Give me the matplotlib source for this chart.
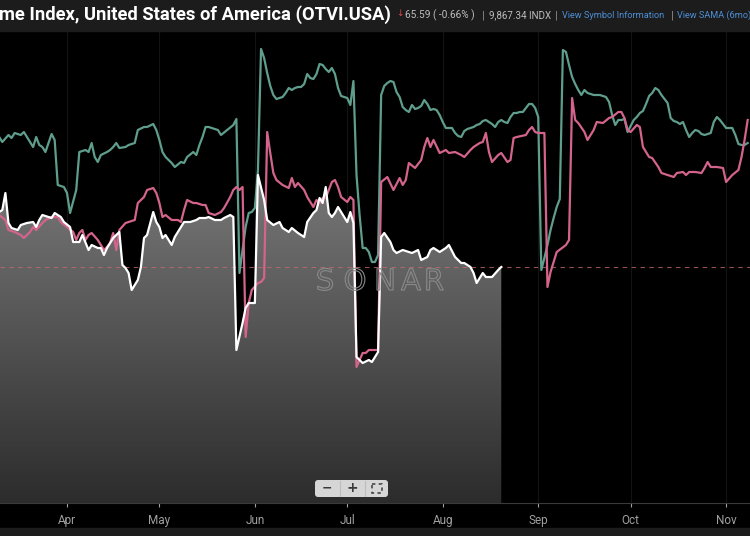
import numpy as np
import pandas as pd
import matplotlib
matplotlib.use("Agg")
import matplotlib.pyplot as plt
import matplotlib.dates as mdates
import matplotlib.patheffects as pe
from matplotlib.colors import LinearSegmentedColormap
from matplotlib.patches import Polygon, Rectangle, FancyBboxPatch

# days after 2024-03-10, index values
base = pd.Timestamp("2024-03-10")

teal_day = [0, 1, 3, 4, 5, 7, 8, 9, 11, 12, 13, 14, 15, 17, 18, 19, 21, 22, 23, 25, 26, 28, 29, 30,
            31, 32, 33, 35, 36, 37, 38, 39, 41, 42, 44, 45, 47, 48, 50, 51, 52, 53, 54, 56, 57, 59,
            60, 61, 63, 64, 65, 66, 67, 68, 69, 71, 72, 74, 76, 77, 78, 80, 81, 82, 83, 84, 85] + list(range(86, 244))
teal_val = [11167, 11117, 11187, 11157, 11207, 11187, 11217, 11167, 11067, 11167, 11087, 11067, 11017,
            11197, 11137, 10687, 10667, 10607, 10407, 10637, 11017, 11037, 11017, 11107, 10967, 10917,
            10987, 11017, 11037, 11067, 11107, 11057, 11067, 11087, 11107, 11237, 11267, 11267, 11297,
            11237, 11137, 11017, 10967, 10907, 10867, 10917, 10907, 10967, 11017, 10987, 11087, 11167,
            11267, 11267, 11257, 11237, 11187, 11237, 11287, 11347, 9807, 10267, 10407, 10417, 10457,
            10837, 12047,
            11957, 11807, 11677, 11587, 11547, 11557, 11567, 11607, 11657, 11637, 11657, 11667, 11667,
            11697, 11797, 11757, 11747, 11797, 11897, 11887, 11847, 11817, 11857, 11797, 11657, 11577,
            11567, 11557, 11487, 11727, 10787, 10387, 10057, 10057, 10017, 9917, 9917, 9987, 11587,
            11677, 11707, 11727, 11717, 11617, 11567, 11467, 11437, 11417, 11487, 11447, 11457, 11477,
            11537, 11497, 11437, 11447, 11437, 11387, 11317, 11257, 11257, 11257, 11207, 11177, 11167,
            11227, 11247, 11257, 11267, 11287, 11297, 11327, 11337, 11317, 11297, 11267, 11317, 11337,
            11317, 11307, 11367, 11407, 11407, 11417, 11417, 11457, 11497, 11497, 11457, 11367, 9837,
            9957, 10087, 10237, 10357, 10467, 10547, 12037, 12017, 11887, 11767, 11697, 11637, 11587,
            11637, 11607, 11597, 11587, 11587, 11587, 11577, 11567, 11517, 11387, 11287, 11337, 11337,
            11347, 11217, 11277, 11337, 11367, 11407, 11427, 11497, 11577, 11607, 11657, 11637, 11587,
            11547, 11507, 11357, 11327, 11317, 11297, 11317, 11237, 11167, 11207, 11237, 11227, 11197,
            11187, 11197, 11207, 11317, 11367, 11337, 11297, 11257, 11257, 11257, 11187, 11097, 11087,
            11087, 11107]

pink_day = [0, 2, 3, 5, 7, 8, 10, 11, 12, 14, 15, 17, 19, 20, 22, 24, 25, 26, 27, 28, 29, 30, 32, 34,
            35, 36, 37, 38, 39, 41, 42, 44, 45, 47, 48, 50, 51, 52, 53, 54, 56, 58, 59, 60, 61, 63, 64,
            66, 67, 68, 70, 72, 73, 75, 76, 77, 78, 79, 80, 81, 82, 84, 85, 86, 87, 88, 89, 90, 92, 94,
            95, 96, 97, 99, 100, 102, 103, 104, 105, 106, 108, 109, 110, 111, 113, 114, 115, 116, 117,
            118, 119, 120, 122, 123, 124, 126, 128, 130, 131, 132, 133, 135, 137, 138, 139, 140, 141,
            143, 145, 146, 148, 150, 151, 153, 154, 156, 157, 158, 159, 160, 162, 163, 165, 166, 167,
            168, 171, 172, 173, 174, 175, 177, 178, 179, 181, 184, 185, 186, 187, 188, 190, 191, 193,
            194, 196, 198, 199, 201, 202, 203, 204, 205, 207, 208, 209, 211, 212, 214, 215, 217, 219,
            220, 222, 223, 224, 226, 228, 229, 230, 231, 233, 235, 236, 238, 240, 241, 242, 243]
pink_val = [10387, 10337, 10237, 10217, 10187, 10157, 10217, 10267, 10237, 10307, 10337, 10367, 10367,
            10317, 10267, 10217, 10137, 10207, 10237, 10137, 10187, 10207, 10137, 10037, 10067, 10107,
            10207, 10037, 10237, 10307, 10317, 10337, 10507, 10567, 10637, 10657, 10607, 10507, 10367,
            10387, 10337, 10337, 10317, 10437, 10537, 10507, 10507, 10487, 10487, 10407, 10387, 10417,
            10457, 10567, 10637, 10667, 10637, 10667, 9167, 9507, 9637, 9707, 9717, 9757, 11217, 11007,
            10807, 10737, 10687, 10657, 10757, 10667, 10707, 10637, 10567, 10467, 10537, 10507, 10557,
            10557, 10717, 10737, 10667, 10567, 10517, 10567, 10537, 8867, 8937, 9007, 9007, 9037, 9037,
            9037, 10717, 10767, 10637, 10757, 10687, 10737, 10907, 10857, 10937, 11067, 11157, 11067,
            11137, 11007, 11037, 11007, 11017, 10987, 10967, 11037, 11067, 11107, 11117, 11207, 11017,
            10917, 10987, 11007, 10917, 10937, 11157, 11167, 11187, 11237, 11267, 11217, 11207, 11207,
            9667, 9817, 10017, 10087, 10137, 11557, 11337, 11307, 11217, 11137, 11237, 11317, 11307,
            11357, 11367, 11417, 11417, 11357, 11237, 11217, 11287, 11267, 11067, 10967, 10957, 10867,
            10807, 10787, 10767, 10807, 10817, 10787, 10817, 10817, 10807, 10857, 10917, 10867, 10867,
            10857, 10717, 10787, 10837, 10967, 11137, 11337]

white_day = [0, 1, 2, 3, 4, 6, 7, 9, 11, 12, 13, 14, 16, 17, 18, 20, 21, 23, 24, 26, 27, 29, 30, 32,
             33, 34, 35, 37, 38, 39, 40, 41, 42, 43, 45, 46, 47, 48, 50, 51, 52, 53, 54, 56, 57, 59, 60,
             62, 64, 65, 67, 68, 70, 72, 73, 75, 76, 77, 79, 80, 81, 83, 84, 86, 87, 89, 91, 92, 94, 95,
             97, 99, 100, 102, 103, 104, 105, 106, 107, 108, 109, 110, 112, 113, 114, 115, 116, 118, 120,
             121, 123, 124, 125, 127, 128, 129, 131, 133, 134, 136, 137, 139, 140, 141, 143, 145, 146,
             148, 150, 151, 153, 154, 155, 157, 158, 160, 162, 163]
white_val = [10417, 10437, 10607, 10307, 10257, 10237, 10287, 10307, 10317, 10267, 10337, 10387, 10367,
             10357, 10407, 10367, 10317, 10267, 10117, 10117, 10187, 10037, 10087, 10057, 10057, 9987,
             10057, 10157, 10187, 10217, 9887, 9857, 9807, 9637, 9737, 9867, 10157, 10187, 10417, 10317,
             10267, 10157, 10187, 10087, 10167, 10267, 10317, 10317, 10337, 10357, 10357, 10367, 10337,
             10337, 10357, 10387, 10367, 9037, 9307, 9457, 9507, 9507, 10787, 10537, 10337, 10287,
             10317, 10257, 10217, 10257, 10207, 10167, 10317, 10407, 10437, 10557, 10507, 10667, 10407,
             10367, 10407, 10467, 10367, 10317, 10417, 10307, 8967, 8907, 8937, 8917, 9017, 10167,
             10207, 10117, 10037, 10007, 10037, 10017, 10007, 10037, 9937, 9967, 10037, 10057, 10017,
             10057, 10087, 9967, 9907, 9907, 9867, 9807, 9707, 9807, 9767, 9767, 9837, 9867.34]

last_value = 9867.34
title = "me Index, United States of America (OTVI.USA)"

W, H = 750, 536
fig = plt.figure(figsize=(W / 100, H / 100), dpi=100, facecolor="black")
ax = fig.add_axes([0, (H - 503) / H, 1, (503 - 32) / H])
ax.set_facecolor("black")

def to_x(days):
    return mdates.date2num(base + pd.to_timedelta(days, unit="D"))

tx, px_, wx = to_x(teal_day), to_x(pink_day), to_x(white_day)
x0 = to_x(0.25)
x1 = x0 + 750 / 3.08
ymin, ymax = 7507, 12217

# gradient area under the white line
verts = list(zip(wx, white_val)) + [(wx[-1], ymin), (wx[0] - 2, ymin), (wx[0] - 2, white_val[0])]
clip = Polygon(verts, closed=True, facecolor="none", edgecolor="none")
ax.add_patch(clip)
cmap = LinearSegmentedColormap.from_list("fill", ["#2c2c2c", "#787878"])
grad = np.linspace(0, 1, 256).reshape(-1, 1)
im = ax.imshow(grad, cmap=cmap, origin="lower", aspect="auto",
               extent=[wx[0] - 2, wx[-1], ymin, max(white_val)], zorder=1)
im.set_clip_path(clip)

ax.axhline(last_value, color="#c86a78", lw=0.8, ls=(0, (4, 4)), alpha=0.75, zorder=2)

ax.plot(tx, teal_val, color="#5f9d8c", lw=1.6, zorder=3)
ax.plot(px_, pink_val, color="#d4648c", lw=1.6, zorder=4)
ax.plot(wx, white_val, color="white", lw=1.6, zorder=5)

ax.set_xlim(x0, x1)
ax.set_ylim(ymin, ymax)
ax.xaxis.set_major_locator(mdates.MonthLocator(bymonth=range(4, 12)))
ax.xaxis.set_major_formatter(mdates.DateFormatter("%b"))
ax.set_yticks([])
ax.grid(axis="x", color="#131313", lw=0.8)
ax.set_axisbelow(True)
for s in ["top", "left", "right"]:
    ax.spines[s].set_visible(False)
ax.spines["bottom"].set_color("#3a3a3a")
ax.tick_params(axis="x", colors="#a0a0a0", length=3, width=0.8, pad=5, labelsize=8.5)
for lab in ax.get_xticklabels():
    lab.set_family("Roboto")

# header bar, bottom strip, watermark and zoom buttons
deco = fig.add_axes([0, 0, 1, 1], zorder=10)
deco.set_xlim(0, W)
deco.set_ylim(H, 0)
deco.axis("off")
deco.add_patch(Rectangle((0, 0), W, 31, color="#1c1c1c"))
deco.add_patch(Rectangle((0, 528), W, 8, color="#1c1c1c"))

for letter, lx in zip("SONAR", [325, 355, 385, 411, 434]):
    deco.text(lx, 282, letter, fontsize=21, family="DejaVu Sans", ha="center", va="center",
              color=(0, 0, 0, 0), path_effects=[pe.Stroke(linewidth=0.8, foreground="#8a8a8a")])

deco.text(-1, 15, title, fontsize=13.2, weight="bold", family="Roboto", color="white", va="center")
deco.text(396, 14, "\u2193", fontsize=6.5, color="#e0454b", va="center", family="DejaVu Sans")
deco.text(405, 15, "65.59 ( -0.66% )", fontsize=7.3, color="#bdbdbd", va="center", family="Roboto")
deco.text(482, 15, "|", fontsize=8, color="#9a9a9a", va="center", family="Roboto")
deco.text(489, 15, "9,867.34 INDX", fontsize=7, color="#bdbdbd", va="center", family="Roboto")
deco.text(555, 15, "|", fontsize=8, color="#9a9a9a", va="center", family="Roboto")
deco.text(562, 15, "View Symbol Information", fontsize=6.6, color="#4d8fd6", va="center", family="Roboto")
deco.text(671, 15, "|", fontsize=8, color="#9a9a9a", va="center", family="Roboto")
deco.text(677, 15, "View SAMA (6mo)", fontsize=6.6, color="#4d8fd6", va="center", family="Roboto")

deco.add_patch(FancyBboxPatch((315, 480), 73, 17, boxstyle="round,pad=0,rounding_size=3",
                              facecolor="#d6d6d6", edgecolor="none"))
deco.plot([339.5, 339.5], [481, 496], color="#bdbdbd", lw=0.8)
deco.plot([364.5, 364.5], [481, 496], color="#bdbdbd", lw=0.8)
deco.text(327, 488.5, "\u2212", fontsize=9, weight="bold", color="#3a3a3a", ha="center", va="center")
deco.text(352, 488.5, "+", fontsize=10, weight="bold", color="#3a3a3a", ha="center", va="center")
deco.add_patch(Rectangle((372, 484), 10, 9, facecolor="none", edgecolor="#3a3a3a", lw=1.1,
                         ls=(0, (2.2, 2.2))))

fig.savefig("out.png", dpi=100, facecolor=fig.get_facecolor())
